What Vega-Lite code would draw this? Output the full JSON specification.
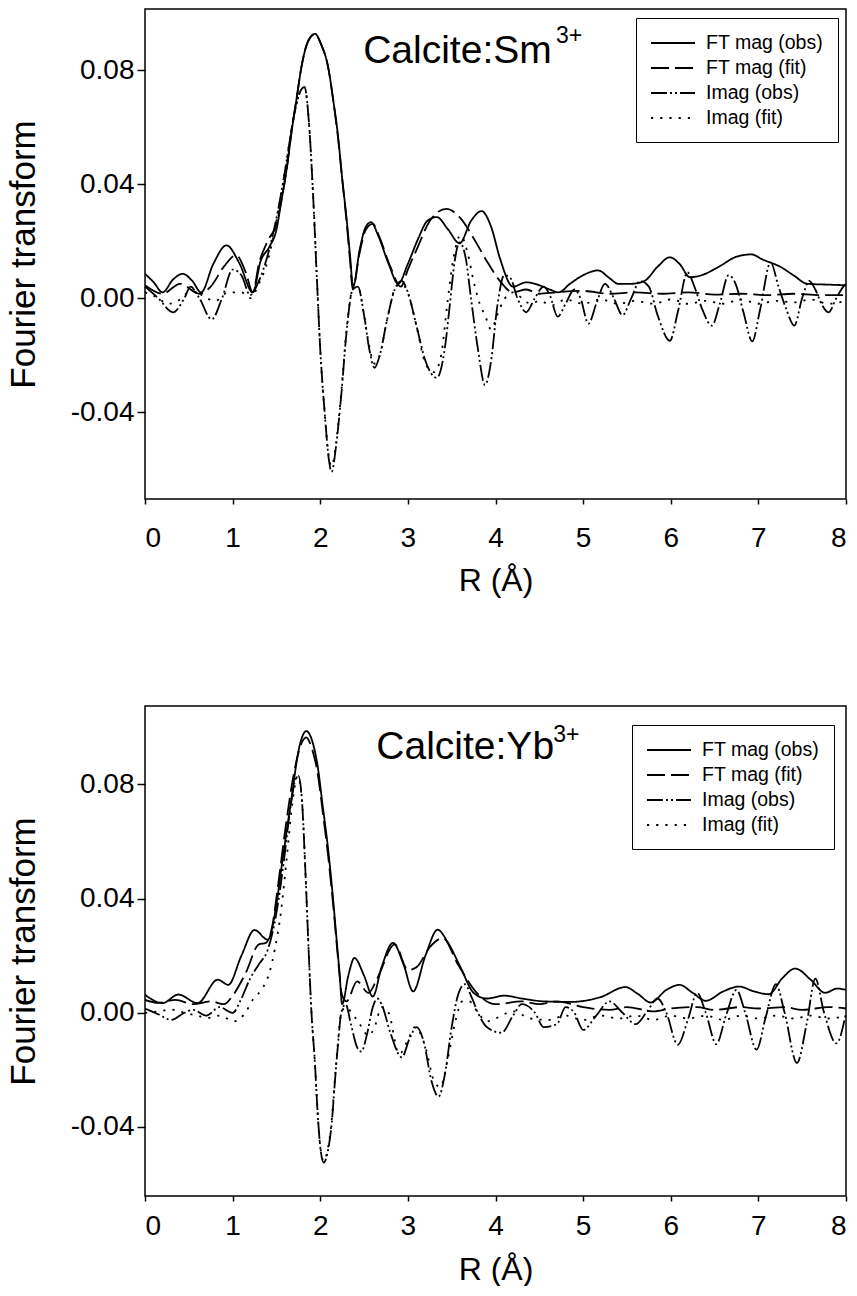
{
"$schema":"https://vega.github.io/schema/vega-lite/v6.json",
"background":"white",
"padding":{"left":5,"top":8,"right":4,"bottom":0},
"spacing":108,
"resolve":{"scale":{"strokeDash":"independent"},"legend":{"strokeDash":"independent"}},
"config":{"font":"Liberation Sans","view":{"stroke":"black","strokeWidth":1.5},
"axis":{"grid":false,"domain":false,"tickColor":"black","tickWidth":1.5,"labelColor":"black","titleColor":"black","labelFontSize":28,"titleFontWeight":"normal","labelFont":"Liberation Sans","titleFont":"Liberation Sans"},
"legend":{"orient":"none","title":null,"strokeColor":"black","fillColor":"white","padding":14,"labelFontSize":19.5,"labelColor":"black","symbolType":"M-1,0H3.4","symbolSize":400,"symbolStrokeWidth":1.8,"symbolStrokeColor":"black","rowPadding":4,"labelOffset":34}},
"datasets":{
"sm":[
{"s":"FT mag (obs)","R":0,"v":0.0085},{"s":"FT mag (obs)","R":0.1,"v":0.0055},{"s":"FT mag (obs)","R":0.2,"v":0.002},{"s":"FT mag (obs)","R":0.32,"v":0.0065},{"s":"FT mag (obs)","R":0.43,"v":0.0085},{"s":"FT mag (obs)","R":0.54,"v":0.006},{"s":"FT mag (obs)","R":0.64,"v":0.002},{"s":"FT mag (obs)","R":0.78,"v":0.012},{"s":"FT mag (obs)","R":0.93,"v":0.0185},{"s":"FT mag (obs)","R":1.08,"v":0.012},{"s":"FT mag (obs)","R":1.23,"v":0.002},{"s":"FT mag (obs)","R":1.32,"v":0.013},{"s":"FT mag (obs)","R":1.42,"v":0.018},{"s":"FT mag (obs)","R":1.5,"v":0.024},{"s":"FT mag (obs)","R":1.556,"v":0.034},{"s":"FT mag (obs)","R":1.62,"v":0.046},{"s":"FT mag (obs)","R":1.67,"v":0.0576},{"s":"FT mag (obs)","R":1.73,"v":0.07},{"s":"FT mag (obs)","R":1.785,"v":0.081},{"s":"FT mag (obs)","R":1.86,"v":0.09},{"s":"FT mag (obs)","R":1.94,"v":0.0927},{"s":"FT mag (obs)","R":2.01,"v":0.089},{"s":"FT mag (obs)","R":2.09,"v":0.081},{"s":"FT mag (obs)","R":2.15,"v":0.069},{"s":"FT mag (obs)","R":2.2,"v":0.0576},{"s":"FT mag (obs)","R":2.25,"v":0.042},{"s":"FT mag (obs)","R":2.3,"v":0.028},{"s":"FT mag (obs)","R":2.34,"v":0.015},{"s":"FT mag (obs)","R":2.375,"v":0.004},{"s":"FT mag (obs)","R":2.45,"v":0.017},{"s":"FT mag (obs)","R":2.52,"v":0.025},{"s":"FT mag (obs)","R":2.58,"v":0.0266},{"s":"FT mag (obs)","R":2.66,"v":0.022},{"s":"FT mag (obs)","R":2.78,"v":0.012},{"s":"FT mag (obs)","R":2.89,"v":0.005},{"s":"FT mag (obs)","R":3.0,"v":0.012},{"s":"FT mag (obs)","R":3.12,"v":0.021},{"s":"FT mag (obs)","R":3.22,"v":0.027},{"s":"FT mag (obs)","R":3.33,"v":0.0284},{"s":"FT mag (obs)","R":3.46,"v":0.024},{"s":"FT mag (obs)","R":3.59,"v":0.0192},{"s":"FT mag (obs)","R":3.72,"v":0.027},{"s":"FT mag (obs)","R":3.84,"v":0.0305},{"s":"FT mag (obs)","R":3.95,"v":0.025},{"s":"FT mag (obs)","R":4.05,"v":0.014},{"s":"FT mag (obs)","R":4.2,"v":0.004},{"s":"FT mag (obs)","R":4.35,"v":0.0055},{"s":"FT mag (obs)","R":4.5,"v":0.0045},{"s":"FT mag (obs)","R":4.62,"v":0.003},{"s":"FT mag (obs)","R":4.72,"v":0.002},{"s":"FT mag (obs)","R":4.85,"v":0.005},{"s":"FT mag (obs)","R":5.0,"v":0.008},{"s":"FT mag (obs)","R":5.17,"v":0.0097},{"s":"FT mag (obs)","R":5.3,"v":0.007},{"s":"FT mag (obs)","R":5.4,"v":0.005},{"s":"FT mag (obs)","R":5.55,"v":0.005},{"s":"FT mag (obs)","R":5.7,"v":0.006},{"s":"FT mag (obs)","R":5.85,"v":0.011},{"s":"FT mag (obs)","R":5.99,"v":0.0143},{"s":"FT mag (obs)","R":6.1,"v":0.012},{"s":"FT mag (obs)","R":6.22,"v":0.0073},{"s":"FT mag (obs)","R":6.35,"v":0.008},{"s":"FT mag (obs)","R":6.55,"v":0.011},{"s":"FT mag (obs)","R":6.75,"v":0.0145},{"s":"FT mag (obs)","R":6.92,"v":0.0153},{"s":"FT mag (obs)","R":7.05,"v":0.0135},{"s":"FT mag (obs)","R":7.26,"v":0.0108},{"s":"FT mag (obs)","R":7.4,"v":0.008},{"s":"FT mag (obs)","R":7.56,"v":0.005},{"s":"FT mag (obs)","R":7.8,"v":0.0047},{"s":"FT mag (obs)","R":8.0,"v":0.0045},
{"s":"FT mag (fit)","R":0,"v":0.0045},{"s":"FT mag (fit)","R":0.2,"v":0.0015},{"s":"FT mag (fit)","R":0.4,"v":0.005},{"s":"FT mag (fit)","R":0.62,"v":0.0015},{"s":"FT mag (fit)","R":0.75,"v":0.004},{"s":"FT mag (fit)","R":0.9,"v":0.011},{"s":"FT mag (fit)","R":1.04,"v":0.015},{"s":"FT mag (fit)","R":1.15,"v":0.009},{"s":"FT mag (fit)","R":1.23,"v":0.002},{"s":"FT mag (fit)","R":1.3,"v":0.012},{"s":"FT mag (fit)","R":1.4,"v":0.02},{"s":"FT mag (fit)","R":1.5,"v":0.026},{"s":"FT mag (fit)","R":1.556,"v":0.034},{"s":"FT mag (fit)","R":1.62,"v":0.046},{"s":"FT mag (fit)","R":1.67,"v":0.058},{"s":"FT mag (fit)","R":1.73,"v":0.07},{"s":"FT mag (fit)","R":1.785,"v":0.081},{"s":"FT mag (fit)","R":1.86,"v":0.09},{"s":"FT mag (fit)","R":1.94,"v":0.0925},{"s":"FT mag (fit)","R":2.01,"v":0.089},{"s":"FT mag (fit)","R":2.09,"v":0.081},{"s":"FT mag (fit)","R":2.15,"v":0.069},{"s":"FT mag (fit)","R":2.2,"v":0.057},{"s":"FT mag (fit)","R":2.25,"v":0.042},{"s":"FT mag (fit)","R":2.3,"v":0.027},{"s":"FT mag (fit)","R":2.34,"v":0.013},{"s":"FT mag (fit)","R":2.37,"v":0.003},{"s":"FT mag (fit)","R":2.45,"v":0.016},{"s":"FT mag (fit)","R":2.52,"v":0.024},{"s":"FT mag (fit)","R":2.6,"v":0.026},{"s":"FT mag (fit)","R":2.68,"v":0.021},{"s":"FT mag (fit)","R":2.8,"v":0.011},{"s":"FT mag (fit)","R":2.92,"v":0.004},{"s":"FT mag (fit)","R":3.0,"v":0.01},{"s":"FT mag (fit)","R":3.1,"v":0.017},{"s":"FT mag (fit)","R":3.25,"v":0.027},{"s":"FT mag (fit)","R":3.44,"v":0.0313},{"s":"FT mag (fit)","R":3.6,"v":0.028},{"s":"FT mag (fit)","R":3.75,"v":0.021},{"s":"FT mag (fit)","R":3.9,"v":0.013},{"s":"FT mag (fit)","R":4.05,"v":0.006},{"s":"FT mag (fit)","R":4.2,"v":0.002},{"s":"FT mag (fit)","R":4.35,"v":0.003},{"s":"FT mag (fit)","R":4.5,"v":0.0015},{"s":"FT mag (fit)","R":4.7,"v":0.002},{"s":"FT mag (fit)","R":5.0,"v":0.0025},{"s":"FT mag (fit)","R":5.3,"v":0.0015},{"s":"FT mag (fit)","R":5.6,"v":0.002},{"s":"FT mag (fit)","R":5.9,"v":0.0015},{"s":"FT mag (fit)","R":6.2,"v":0.002},{"s":"FT mag (fit)","R":6.5,"v":0.0012},{"s":"FT mag (fit)","R":6.8,"v":0.0015},{"s":"FT mag (fit)","R":7.1,"v":0.001},{"s":"FT mag (fit)","R":7.4,"v":0.0015},{"s":"FT mag (fit)","R":7.7,"v":0.001},{"s":"FT mag (fit)","R":8.0,"v":0.001},
{"s":"Imag (obs)","R":0,"v":0.004},{"s":"Imag (obs)","R":0.15,"v":0.0},{"s":"Imag (obs)","R":0.32,"v":-0.005},{"s":"Imag (obs)","R":0.45,"v":0.0},{"s":"Imag (obs)","R":0.52,"v":0.004},{"s":"Imag (obs)","R":0.62,"v":0.0},{"s":"Imag (obs)","R":0.76,"v":-0.0075},{"s":"Imag (obs)","R":0.88,"v":0.0},{"s":"Imag (obs)","R":1.0,"v":0.01},{"s":"Imag (obs)","R":1.1,"v":0.008},{"s":"Imag (obs)","R":1.2,"v":0.001},{"s":"Imag (obs)","R":1.3,"v":0.006},{"s":"Imag (obs)","R":1.4,"v":0.015},{"s":"Imag (obs)","R":1.5,"v":0.028},{"s":"Imag (obs)","R":1.6,"v":0.045},{"s":"Imag (obs)","R":1.7,"v":0.064},{"s":"Imag (obs)","R":1.78,"v":0.073},{"s":"Imag (obs)","R":1.82,"v":0.074},{"s":"Imag (obs)","R":1.87,"v":0.062},{"s":"Imag (obs)","R":1.92,"v":0.035},{"s":"Imag (obs)","R":1.96,"v":0.008},{"s":"Imag (obs)","R":2.0,"v":-0.018},{"s":"Imag (obs)","R":2.05,"v":-0.04},{"s":"Imag (obs)","R":2.1,"v":-0.057},{"s":"Imag (obs)","R":2.13,"v":-0.061},{"s":"Imag (obs)","R":2.18,"v":-0.052},{"s":"Imag (obs)","R":2.24,"v":-0.034},{"s":"Imag (obs)","R":2.3,"v":-0.012},{"s":"Imag (obs)","R":2.37,"v":0.003},{"s":"Imag (obs)","R":2.43,"v":0.004},{"s":"Imag (obs)","R":2.5,"v":-0.006},{"s":"Imag (obs)","R":2.56,"v":-0.018},{"s":"Imag (obs)","R":2.62,"v":-0.0245},{"s":"Imag (obs)","R":2.68,"v":-0.02},{"s":"Imag (obs)","R":2.76,"v":-0.008},{"s":"Imag (obs)","R":2.85,"v":0.003},{"s":"Imag (obs)","R":2.93,"v":0.006},{"s":"Imag (obs)","R":3.0,"v":0.002},{"s":"Imag (obs)","R":3.1,"v":-0.01},{"s":"Imag (obs)","R":3.2,"v":-0.022},{"s":"Imag (obs)","R":3.33,"v":-0.028},{"s":"Imag (obs)","R":3.42,"v":-0.018},{"s":"Imag (obs)","R":3.48,"v":-0.002},{"s":"Imag (obs)","R":3.53,"v":0.012},{"s":"Imag (obs)","R":3.59,"v":0.0195},{"s":"Imag (obs)","R":3.66,"v":0.014},{"s":"Imag (obs)","R":3.72,"v":0.0},{"s":"Imag (obs)","R":3.8,"v":-0.018},{"s":"Imag (obs)","R":3.88,"v":-0.0305},{"s":"Imag (obs)","R":3.95,"v":-0.022},{"s":"Imag (obs)","R":4.02,"v":-0.003},{"s":"Imag (obs)","R":4.1,"v":0.008},{"s":"Imag (obs)","R":4.17,"v":0.007},{"s":"Imag (obs)","R":4.25,"v":0.0},{"s":"Imag (obs)","R":4.35,"v":-0.005},{"s":"Imag (obs)","R":4.45,"v":0.0},{"s":"Imag (obs)","R":4.55,"v":0.004},{"s":"Imag (obs)","R":4.62,"v":0.001},{"s":"Imag (obs)","R":4.71,"v":-0.0065},{"s":"Imag (obs)","R":4.8,"v":-0.002},{"s":"Imag (obs)","R":4.9,"v":0.003},{"s":"Imag (obs)","R":4.97,"v":0.0},{"s":"Imag (obs)","R":5.06,"v":-0.009},{"s":"Imag (obs)","R":5.15,"v":-0.002},{"s":"Imag (obs)","R":5.25,"v":0.005},{"s":"Imag (obs)","R":5.35,"v":0.0},{"s":"Imag (obs)","R":5.45,"v":-0.006},{"s":"Imag (obs)","R":5.55,"v":0.0},{"s":"Imag (obs)","R":5.65,"v":0.006},{"s":"Imag (obs)","R":5.75,"v":0.004},{"s":"Imag (obs)","R":5.85,"v":-0.006},{"s":"Imag (obs)","R":5.99,"v":-0.015},{"s":"Imag (obs)","R":6.08,"v":-0.005},{"s":"Imag (obs)","R":6.19,"v":0.009},{"s":"Imag (obs)","R":6.27,"v":0.004},{"s":"Imag (obs)","R":6.36,"v":-0.004},{"s":"Imag (obs)","R":6.47,"v":-0.0097},{"s":"Imag (obs)","R":6.56,"v":-0.002},{"s":"Imag (obs)","R":6.66,"v":0.008},{"s":"Imag (obs)","R":6.74,"v":0.005},{"s":"Imag (obs)","R":6.83,"v":-0.005},{"s":"Imag (obs)","R":6.93,"v":-0.0152},{"s":"Imag (obs)","R":7.02,"v":-0.004},{"s":"Imag (obs)","R":7.14,"v":0.0125},{"s":"Imag (obs)","R":7.23,"v":0.004},{"s":"Imag (obs)","R":7.32,"v":-0.004},{"s":"Imag (obs)","R":7.41,"v":-0.0097},{"s":"Imag (obs)","R":7.5,"v":0.0},{"s":"Imag (obs)","R":7.58,"v":0.006},{"s":"Imag (obs)","R":7.65,"v":0.003},{"s":"Imag (obs)","R":7.72,"v":-0.002},{"s":"Imag (obs)","R":7.8,"v":-0.005},{"s":"Imag (obs)","R":7.89,"v":0.0},{"s":"Imag (obs)","R":7.97,"v":0.004},{"s":"Imag (obs)","R":8.0,"v":0.005},
{"s":"Imag (fit)","R":0,"v":0.002},{"s":"Imag (fit)","R":0.15,"v":0.0},{"s":"Imag (fit)","R":0.25,"v":-0.002},{"s":"Imag (fit)","R":0.35,"v":-0.0015},{"s":"Imag (fit)","R":0.45,"v":0.001},{"s":"Imag (fit)","R":0.55,"v":0.003},{"s":"Imag (fit)","R":0.65,"v":0.001},{"s":"Imag (fit)","R":0.8,"v":-0.001},{"s":"Imag (fit)","R":0.95,"v":0.002},{"s":"Imag (fit)","R":1.1,"v":0.002},{"s":"Imag (fit)","R":1.2,"v":0.0},{"s":"Imag (fit)","R":1.3,"v":0.005},{"s":"Imag (fit)","R":1.4,"v":0.013},{"s":"Imag (fit)","R":1.5,"v":0.027},{"s":"Imag (fit)","R":1.6,"v":0.045},{"s":"Imag (fit)","R":1.7,"v":0.064},{"s":"Imag (fit)","R":1.78,"v":0.073},{"s":"Imag (fit)","R":1.82,"v":0.074},{"s":"Imag (fit)","R":1.87,"v":0.062},{"s":"Imag (fit)","R":1.92,"v":0.035},{"s":"Imag (fit)","R":1.96,"v":0.008},{"s":"Imag (fit)","R":2.0,"v":-0.018},{"s":"Imag (fit)","R":2.05,"v":-0.04},{"s":"Imag (fit)","R":2.1,"v":-0.056},{"s":"Imag (fit)","R":2.13,"v":-0.059},{"s":"Imag (fit)","R":2.18,"v":-0.051},{"s":"Imag (fit)","R":2.24,"v":-0.033},{"s":"Imag (fit)","R":2.3,"v":-0.011},{"s":"Imag (fit)","R":2.37,"v":0.003},{"s":"Imag (fit)","R":2.43,"v":0.004},{"s":"Imag (fit)","R":2.5,"v":-0.006},{"s":"Imag (fit)","R":2.56,"v":-0.017},{"s":"Imag (fit)","R":2.62,"v":-0.023},{"s":"Imag (fit)","R":2.68,"v":-0.02},{"s":"Imag (fit)","R":2.76,"v":-0.008},{"s":"Imag (fit)","R":2.85,"v":0.003},{"s":"Imag (fit)","R":2.93,"v":0.005},{"s":"Imag (fit)","R":3.02,"v":0.0},{"s":"Imag (fit)","R":3.1,"v":-0.01},{"s":"Imag (fit)","R":3.2,"v":-0.023},{"s":"Imag (fit)","R":3.3,"v":-0.026},{"s":"Imag (fit)","R":3.38,"v":-0.02},{"s":"Imag (fit)","R":3.45,"v":-0.002},{"s":"Imag (fit)","R":3.52,"v":0.014},{"s":"Imag (fit)","R":3.6,"v":0.022},{"s":"Imag (fit)","R":3.68,"v":0.016},{"s":"Imag (fit)","R":3.75,"v":0.006},{"s":"Imag (fit)","R":3.82,"v":-0.002},{"s":"Imag (fit)","R":3.88,"v":-0.006},{"s":"Imag (fit)","R":3.95,"v":-0.011},{"s":"Imag (fit)","R":4.02,"v":-0.006},{"s":"Imag (fit)","R":4.09,"v":-0.001},{"s":"Imag (fit)","R":4.2,"v":0.002},{"s":"Imag (fit)","R":4.3,"v":0.0},{"s":"Imag (fit)","R":4.4,"v":-0.002},{"s":"Imag (fit)","R":4.5,"v":-0.001},{"s":"Imag (fit)","R":4.65,"v":-0.0025},{"s":"Imag (fit)","R":4.8,"v":-0.0005},{"s":"Imag (fit)","R":5.0,"v":-0.002},{"s":"Imag (fit)","R":5.2,"v":-0.0005},{"s":"Imag (fit)","R":5.4,"v":-0.002},{"s":"Imag (fit)","R":5.6,"v":-0.001},{"s":"Imag (fit)","R":5.8,"v":-0.002},{"s":"Imag (fit)","R":6.0,"v":-0.0005},{"s":"Imag (fit)","R":6.2,"v":-0.002},{"s":"Imag (fit)","R":6.4,"v":-0.001},{"s":"Imag (fit)","R":6.6,"v":-0.002},{"s":"Imag (fit)","R":6.8,"v":-0.0005},{"s":"Imag (fit)","R":7.0,"v":-0.002},{"s":"Imag (fit)","R":7.2,"v":-0.001},{"s":"Imag (fit)","R":7.4,"v":-0.0015},{"s":"Imag (fit)","R":7.6,"v":-0.0005},{"s":"Imag (fit)","R":7.8,"v":-0.002},{"s":"Imag (fit)","R":8.0,"v":-0.001}
],
"yb":[
{"s":"FT mag (obs)","R":0,"v":0.0063},{"s":"FT mag (obs)","R":0.2,"v":0.0034},{"s":"FT mag (obs)","R":0.38,"v":0.0064},{"s":"FT mag (obs)","R":0.6,"v":0.0034},{"s":"FT mag (obs)","R":0.83,"v":0.0116},{"s":"FT mag (obs)","R":0.95,"v":0.0098},{"s":"FT mag (obs)","R":1.1,"v":0.02},{"s":"FT mag (obs)","R":1.25,"v":0.029},{"s":"FT mag (obs)","R":1.4,"v":0.0256},{"s":"FT mag (obs)","R":1.5,"v":0.038},{"s":"FT mag (obs)","R":1.56,"v":0.0514},{"s":"FT mag (obs)","R":1.67,"v":0.0748},{"s":"FT mag (obs)","R":1.76,"v":0.093},{"s":"FT mag (obs)","R":1.84,"v":0.0987},{"s":"FT mag (obs)","R":1.92,"v":0.094},{"s":"FT mag (obs)","R":1.97,"v":0.0865},{"s":"FT mag (obs)","R":2.03,"v":0.072},{"s":"FT mag (obs)","R":2.09,"v":0.0573},{"s":"FT mag (obs)","R":2.14,"v":0.042},{"s":"FT mag (obs)","R":2.18,"v":0.028},{"s":"FT mag (obs)","R":2.22,"v":0.014},{"s":"FT mag (obs)","R":2.25,"v":0.003},{"s":"FT mag (obs)","R":2.32,"v":0.013},{"s":"FT mag (obs)","R":2.39,"v":0.0192},{"s":"FT mag (obs)","R":2.5,"v":0.013},{"s":"FT mag (obs)","R":2.6,"v":0.0057},{"s":"FT mag (obs)","R":2.7,"v":0.016},{"s":"FT mag (obs)","R":2.83,"v":0.0245},{"s":"FT mag (obs)","R":2.95,"v":0.017},{"s":"FT mag (obs)","R":3.06,"v":0.0075},{"s":"FT mag (obs)","R":3.2,"v":0.02},{"s":"FT mag (obs)","R":3.34,"v":0.0291},{"s":"FT mag (obs)","R":3.45,"v":0.025},{"s":"FT mag (obs)","R":3.6,"v":0.016},{"s":"FT mag (obs)","R":3.75,"v":0.007},{"s":"FT mag (obs)","R":3.9,"v":0.005},{"s":"FT mag (obs)","R":4.1,"v":0.006},{"s":"FT mag (obs)","R":4.3,"v":0.005},{"s":"FT mag (obs)","R":4.55,"v":0.004},{"s":"FT mag (obs)","R":4.85,"v":0.0038},{"s":"FT mag (obs)","R":5.2,"v":0.0055},{"s":"FT mag (obs)","R":5.48,"v":0.009},{"s":"FT mag (obs)","R":5.63,"v":0.0065},{"s":"FT mag (obs)","R":5.77,"v":0.0036},{"s":"FT mag (obs)","R":5.95,"v":0.008},{"s":"FT mag (obs)","R":6.1,"v":0.0098},{"s":"FT mag (obs)","R":6.25,"v":0.007},{"s":"FT mag (obs)","R":6.4,"v":0.0042},{"s":"FT mag (obs)","R":6.6,"v":0.0075},{"s":"FT mag (obs)","R":6.78,"v":0.0092},{"s":"FT mag (obs)","R":6.95,"v":0.0075},{"s":"FT mag (obs)","R":7.12,"v":0.0065},{"s":"FT mag (obs)","R":7.27,"v":0.012},{"s":"FT mag (obs)","R":7.42,"v":0.0155},{"s":"FT mag (obs)","R":7.6,"v":0.0115},{"s":"FT mag (obs)","R":7.76,"v":0.007},{"s":"FT mag (obs)","R":7.9,"v":0.0085},{"s":"FT mag (obs)","R":8.0,"v":0.008},
{"s":"FT mag (fit)","R":0,"v":0.0045},{"s":"FT mag (fit)","R":0.15,"v":0.0035},{"s":"FT mag (fit)","R":0.35,"v":0.0045},{"s":"FT mag (fit)","R":0.55,"v":0.003},{"s":"FT mag (fit)","R":0.75,"v":0.004},{"s":"FT mag (fit)","R":0.9,"v":0.003},{"s":"FT mag (fit)","R":1.0,"v":0.006},{"s":"FT mag (fit)","R":1.15,"v":0.014},{"s":"FT mag (fit)","R":1.3,"v":0.024},{"s":"FT mag (fit)","R":1.38,"v":0.0245},{"s":"FT mag (fit)","R":1.45,"v":0.03},{"s":"FT mag (fit)","R":1.52,"v":0.045},{"s":"FT mag (fit)","R":1.6,"v":0.064},{"s":"FT mag (fit)","R":1.7,"v":0.084},{"s":"FT mag (fit)","R":1.78,"v":0.094},{"s":"FT mag (fit)","R":1.84,"v":0.0965},{"s":"FT mag (fit)","R":1.9,"v":0.093},{"s":"FT mag (fit)","R":1.97,"v":0.084},{"s":"FT mag (fit)","R":2.03,"v":0.07},{"s":"FT mag (fit)","R":2.09,"v":0.055},{"s":"FT mag (fit)","R":2.15,"v":0.037},{"s":"FT mag (fit)","R":2.2,"v":0.02},{"s":"FT mag (fit)","R":2.25,"v":0.006},{"s":"FT mag (fit)","R":2.3,"v":0.004},{"s":"FT mag (fit)","R":2.42,"v":0.011},{"s":"FT mag (fit)","R":2.55,"v":0.007},{"s":"FT mag (fit)","R":2.65,"v":0.012},{"s":"FT mag (fit)","R":2.85,"v":0.024},{"s":"FT mag (fit)","R":3.0,"v":0.015},{"s":"FT mag (fit)","R":3.1,"v":0.016},{"s":"FT mag (fit)","R":3.25,"v":0.023},{"s":"FT mag (fit)","R":3.4,"v":0.0262},{"s":"FT mag (fit)","R":3.57,"v":0.017},{"s":"FT mag (fit)","R":3.8,"v":0.0065},{"s":"FT mag (fit)","R":4.0,"v":0.003},{"s":"FT mag (fit)","R":4.3,"v":0.004},{"s":"FT mag (fit)","R":4.5,"v":0.003},{"s":"FT mag (fit)","R":4.7,"v":0.004},{"s":"FT mag (fit)","R":5.0,"v":0.002},{"s":"FT mag (fit)","R":5.3,"v":0.001},{"s":"FT mag (fit)","R":5.5,"v":0.002},{"s":"FT mag (fit)","R":5.8,"v":0.0005},{"s":"FT mag (fit)","R":6.0,"v":0.0015},{"s":"FT mag (fit)","R":6.3,"v":0.002},{"s":"FT mag (fit)","R":6.5,"v":0.001},{"s":"FT mag (fit)","R":6.8,"v":0.002},{"s":"FT mag (fit)","R":7.0,"v":0.0015},{"s":"FT mag (fit)","R":7.3,"v":0.002},{"s":"FT mag (fit)","R":7.5,"v":0.001},{"s":"FT mag (fit)","R":7.8,"v":0.002},{"s":"FT mag (fit)","R":8.0,"v":0.0015},
{"s":"Imag (obs)","R":0,"v":0.0015},{"s":"Imag (obs)","R":0.15,"v":-0.0005},{"s":"Imag (obs)","R":0.3,"v":-0.0025},{"s":"Imag (obs)","R":0.45,"v":0.0},{"s":"Imag (obs)","R":0.55,"v":0.001},{"s":"Imag (obs)","R":0.7,"v":-0.001},{"s":"Imag (obs)","R":0.85,"v":0.002},{"s":"Imag (obs)","R":1.0,"v":0.0},{"s":"Imag (obs)","R":1.1,"v":0.005},{"s":"Imag (obs)","R":1.2,"v":0.012},{"s":"Imag (obs)","R":1.3,"v":0.017},{"s":"Imag (obs)","R":1.4,"v":0.022},{"s":"Imag (obs)","R":1.5,"v":0.035},{"s":"Imag (obs)","R":1.58,"v":0.052},{"s":"Imag (obs)","R":1.66,"v":0.072},{"s":"Imag (obs)","R":1.72,"v":0.082},{"s":"Imag (obs)","R":1.75,"v":0.083},{"s":"Imag (obs)","R":1.79,"v":0.075},{"s":"Imag (obs)","R":1.83,"v":0.05},{"s":"Imag (obs)","R":1.87,"v":0.02},{"s":"Imag (obs)","R":1.9,"v":0.0},{"s":"Imag (obs)","R":1.94,"v":-0.018},{"s":"Imag (obs)","R":1.97,"v":-0.035},{"s":"Imag (obs)","R":2.0,"v":-0.047},{"s":"Imag (obs)","R":2.04,"v":-0.0525},{"s":"Imag (obs)","R":2.09,"v":-0.048},{"s":"Imag (obs)","R":2.13,"v":-0.039},{"s":"Imag (obs)","R":2.17,"v":-0.023},{"s":"Imag (obs)","R":2.2,"v":-0.012},{"s":"Imag (obs)","R":2.24,"v":0.0},{"s":"Imag (obs)","R":2.29,"v":0.003},{"s":"Imag (obs)","R":2.35,"v":-0.004},{"s":"Imag (obs)","R":2.42,"v":-0.012},{"s":"Imag (obs)","R":2.47,"v":-0.0136},{"s":"Imag (obs)","R":2.53,"v":-0.008},{"s":"Imag (obs)","R":2.6,"v":0.002},{"s":"Imag (obs)","R":2.65,"v":0.005},{"s":"Imag (obs)","R":2.7,"v":0.003},{"s":"Imag (obs)","R":2.8,"v":-0.007},{"s":"Imag (obs)","R":2.93,"v":-0.0156},{"s":"Imag (obs)","R":3.02,"v":-0.009},{"s":"Imag (obs)","R":3.1,"v":-0.005},{"s":"Imag (obs)","R":3.18,"v":-0.01},{"s":"Imag (obs)","R":3.27,"v":-0.024},{"s":"Imag (obs)","R":3.35,"v":-0.0294},{"s":"Imag (obs)","R":3.42,"v":-0.022},{"s":"Imag (obs)","R":3.5,"v":-0.005},{"s":"Imag (obs)","R":3.57,"v":0.006},{"s":"Imag (obs)","R":3.65,"v":0.01},{"s":"Imag (obs)","R":3.72,"v":0.006},{"s":"Imag (obs)","R":3.8,"v":0.0},{"s":"Imag (obs)","R":3.9,"v":-0.005},{"s":"Imag (obs)","R":4.07,"v":-0.007},{"s":"Imag (obs)","R":4.2,"v":-0.001},{"s":"Imag (obs)","R":4.3,"v":0.003},{"s":"Imag (obs)","R":4.45,"v":0.0},{"s":"Imag (obs)","R":4.55,"v":-0.005},{"s":"Imag (obs)","R":4.7,"v":-0.004},{"s":"Imag (obs)","R":4.8,"v":0.002},{"s":"Imag (obs)","R":4.9,"v":0.0},{"s":"Imag (obs)","R":5.0,"v":-0.006},{"s":"Imag (obs)","R":5.15,"v":-0.001},{"s":"Imag (obs)","R":5.3,"v":0.004},{"s":"Imag (obs)","R":5.45,"v":0.0},{"s":"Imag (obs)","R":5.6,"v":-0.004},{"s":"Imag (obs)","R":5.72,"v":0.0},{"s":"Imag (obs)","R":5.85,"v":0.005},{"s":"Imag (obs)","R":5.95,"v":0.0},{"s":"Imag (obs)","R":6.08,"v":-0.0112},{"s":"Imag (obs)","R":6.2,"v":-0.002},{"s":"Imag (obs)","R":6.3,"v":0.007},{"s":"Imag (obs)","R":6.4,"v":0.0},{"s":"Imag (obs)","R":6.52,"v":-0.011},{"s":"Imag (obs)","R":6.63,"v":-0.001},{"s":"Imag (obs)","R":6.75,"v":0.008},{"s":"Imag (obs)","R":6.85,"v":0.0},{"s":"Imag (obs)","R":6.98,"v":-0.0129},{"s":"Imag (obs)","R":7.08,"v":-0.002},{"s":"Imag (obs)","R":7.2,"v":0.01},{"s":"Imag (obs)","R":7.3,"v":0.0},{"s":"Imag (obs)","R":7.44,"v":-0.0176},{"s":"Imag (obs)","R":7.55,"v":-0.004},{"s":"Imag (obs)","R":7.65,"v":0.012},{"s":"Imag (obs)","R":7.75,"v":0.0},{"s":"Imag (obs)","R":7.89,"v":-0.0107},{"s":"Imag (obs)","R":8.0,"v":0.0},
{"s":"Imag (fit)","R":0,"v":0.0},{"s":"Imag (fit)","R":0.15,"v":0.0005},{"s":"Imag (fit)","R":0.3,"v":0.0011},{"s":"Imag (fit)","R":0.45,"v":0.0},{"s":"Imag (fit)","R":0.6,"v":-0.001},{"s":"Imag (fit)","R":0.72,"v":-0.0018},{"s":"Imag (fit)","R":0.85,"v":-0.001},{"s":"Imag (fit)","R":1.02,"v":-0.003},{"s":"Imag (fit)","R":1.14,"v":-0.0002},{"s":"Imag (fit)","R":1.23,"v":0.0046},{"s":"Imag (fit)","R":1.35,"v":0.009},{"s":"Imag (fit)","R":1.42,"v":0.014},{"s":"Imag (fit)","R":1.48,"v":0.022},{"s":"Imag (fit)","R":1.55,"v":0.035},{"s":"Imag (fit)","R":1.62,"v":0.055},{"s":"Imag (fit)","R":1.68,"v":0.073},{"s":"Imag (fit)","R":1.72,"v":0.081},{"s":"Imag (fit)","R":1.74,"v":0.083},{"s":"Imag (fit)","R":1.79,"v":0.075},{"s":"Imag (fit)","R":1.83,"v":0.05},{"s":"Imag (fit)","R":1.87,"v":0.02},{"s":"Imag (fit)","R":1.9,"v":0.0},{"s":"Imag (fit)","R":1.94,"v":-0.018},{"s":"Imag (fit)","R":1.97,"v":-0.035},{"s":"Imag (fit)","R":2.0,"v":-0.047},{"s":"Imag (fit)","R":2.04,"v":-0.052},{"s":"Imag (fit)","R":2.09,"v":-0.047},{"s":"Imag (fit)","R":2.13,"v":-0.038},{"s":"Imag (fit)","R":2.17,"v":-0.022},{"s":"Imag (fit)","R":2.2,"v":-0.011},{"s":"Imag (fit)","R":2.24,"v":0.0},{"s":"Imag (fit)","R":2.29,"v":0.002},{"s":"Imag (fit)","R":2.36,"v":0.0},{"s":"Imag (fit)","R":2.45,"v":-0.004},{"s":"Imag (fit)","R":2.55,"v":-0.008},{"s":"Imag (fit)","R":2.62,"v":-0.005},{"s":"Imag (fit)","R":2.7,"v":0.002},{"s":"Imag (fit)","R":2.78,"v":0.0},{"s":"Imag (fit)","R":2.9,"v":-0.0145},{"s":"Imag (fit)","R":3.0,"v":-0.0095},{"s":"Imag (fit)","R":3.08,"v":-0.005},{"s":"Imag (fit)","R":3.2,"v":-0.012},{"s":"Imag (fit)","R":3.3,"v":-0.024},{"s":"Imag (fit)","R":3.37,"v":-0.026},{"s":"Imag (fit)","R":3.45,"v":-0.017},{"s":"Imag (fit)","R":3.55,"v":-0.002},{"s":"Imag (fit)","R":3.62,"v":0.004},{"s":"Imag (fit)","R":3.7,"v":0.004},{"s":"Imag (fit)","R":3.8,"v":0.0},{"s":"Imag (fit)","R":3.9,"v":-0.003},{"s":"Imag (fit)","R":4.0,"v":-0.002},{"s":"Imag (fit)","R":4.2,"v":0.0005},{"s":"Imag (fit)","R":4.4,"v":-0.002},{"s":"Imag (fit)","R":4.6,"v":-0.0025},{"s":"Imag (fit)","R":4.8,"v":-0.001},{"s":"Imag (fit)","R":5.0,"v":-0.0025},{"s":"Imag (fit)","R":5.2,"v":-0.001},{"s":"Imag (fit)","R":5.4,"v":-0.002},{"s":"Imag (fit)","R":5.6,"v":-0.001},{"s":"Imag (fit)","R":5.8,"v":-0.0025},{"s":"Imag (fit)","R":6.0,"v":-0.001},{"s":"Imag (fit)","R":6.2,"v":-0.002},{"s":"Imag (fit)","R":6.4,"v":-0.001},{"s":"Imag (fit)","R":6.6,"v":-0.0025},{"s":"Imag (fit)","R":6.8,"v":-0.001},{"s":"Imag (fit)","R":7.0,"v":-0.002},{"s":"Imag (fit)","R":7.2,"v":-0.001},{"s":"Imag (fit)","R":7.4,"v":-0.002},{"s":"Imag (fit)","R":7.6,"v":-0.001},{"s":"Imag (fit)","R":7.8,"v":-0.002},{"s":"Imag (fit)","R":8.0,"v":-0.001}
]},
"vconcat":[
{"width":701,"height":490,
"layer":[
{"data":{"name":"sm"},"mark":{"type":"line","interpolate":"monotone","color":"black","strokeWidth":1.8,"clip":true},
"encoding":{
"x":{"field":"R","type":"quantitative","scale":{"domain":[0,8],"nice":false},"axis":{"values":[0,1,2,3,4,5,6,7,8],"format":"d","title":"R (Å)","titleFontSize":32,"tickSize":5,"labelPadding":20,"titlePadding":13}},
"y":{"field":"v","type":"quantitative","scale":{"domain":[-0.0705,0.1014],"nice":false,"zero":false},"axis":{"values":[-0.04,0,0.04,0.08],"labelExpr":"replace(format(datum.value,'.2f'),'−','-')","title":"Fourier transform","titleFontSize":35,"tickSize":8,"labelPadding":3,"titlePadding":29}},
"strokeDash":{"field":"s","type":"nominal","scale":{"domain":["FT mag (obs)","FT mag (fit)","Imag (obs)","Imag (fit)"],"range":[[1,0],[18,6],[16,3,2,3,2,3],[2.2,7]]},"legend":{"legendX":491,"legendY":9}}}},
{"data":{"values":[{}]},"mark":{"type":"text","fontSize":39,"align":"left","baseline":"alphabetic","color":"black"},"encoding":{"x":{"datum":2.49},"y":{"datum":0.0823},"text":{"value":"Calcite:Sm"}}},
{"data":{"values":[{}]},"mark":{"type":"text","fontSize":23,"align":"left","baseline":"alphabetic","color":"black"},"encoding":{"x":{"datum":4.69},"y":{"datum":0.0893},"text":{"value":"3+"}}}
]},
{"width":701,"height":490,
"layer":[
{"data":{"name":"yb"},"mark":{"type":"line","interpolate":"monotone","color":"black","strokeWidth":1.8,"clip":true},
"encoding":{
"x":{"field":"R","type":"quantitative","scale":{"domain":[0,8],"nice":false},"axis":{"values":[0,1,2,3,4,5,6,7,8],"format":"d","title":"R (Å)","titleFontSize":32,"tickSize":5,"labelPadding":11,"titlePadding":14}},
"y":{"field":"v","type":"quantitative","scale":{"domain":[-0.0642,0.1075],"nice":false,"zero":false},"axis":{"values":[-0.04,0,0.04,0.08],"labelExpr":"replace(format(datum.value,'.2f'),'−','-')","title":"Fourier transform","titleFontSize":35,"tickSize":8,"labelPadding":3,"titlePadding":29}},
"strokeDash":{"field":"s","type":"nominal","scale":{"domain":["FT mag (obs)","FT mag (fit)","Imag (obs)","Imag (fit)"],"range":[[1,0],[18,6],[16,3,2,3,2,3],[2.2,7]]},"legend":{"legendX":487,"legendY":19}}}},
{"data":{"values":[{}]},"mark":{"type":"text","fontSize":39,"align":"left","baseline":"alphabetic","color":"black"},"encoding":{"x":{"datum":2.64},"y":{"datum":0.0888},"text":{"value":"Calcite:Yb"}}},
{"data":{"values":[{}]},"mark":{"type":"text","fontSize":23,"align":"left","baseline":"alphabetic","color":"black"},"encoding":{"x":{"datum":4.66},"y":{"datum":0.0948},"text":{"value":"3+"}}}
]}
]
}
